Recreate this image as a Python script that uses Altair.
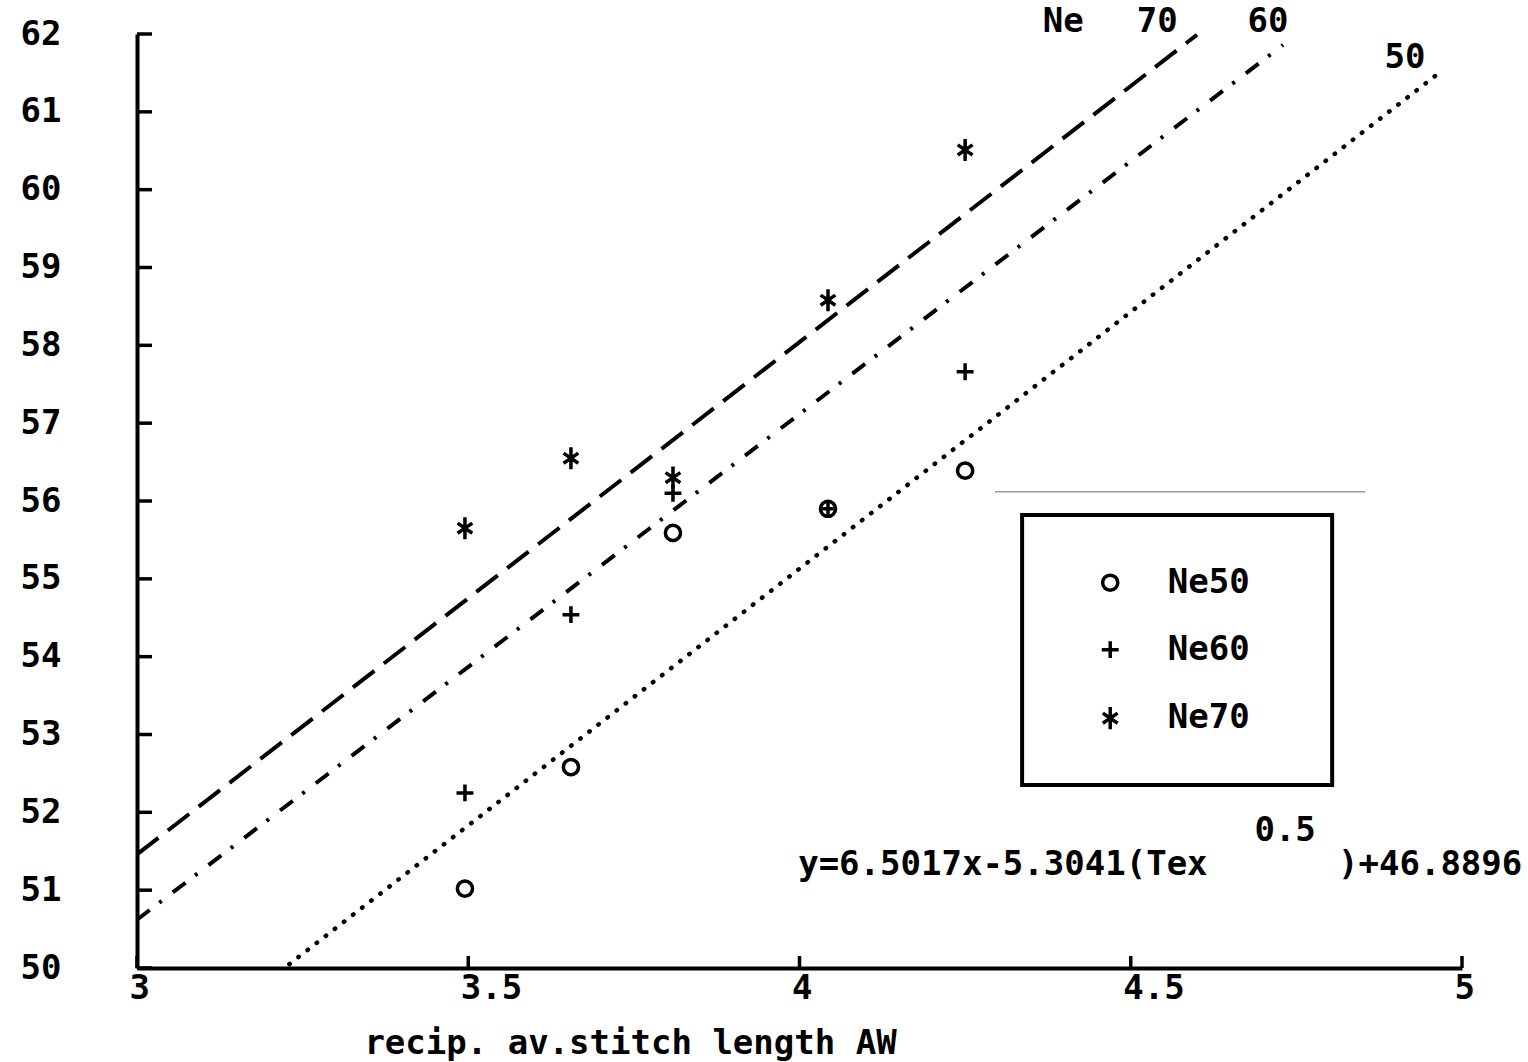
import altair as alt
import pandas as pd

# ---- data ----
x_vals = [3.495, 3.655, 3.809, 4.043, 4.25]
ne50 = [51.02, 52.58, 55.59, 55.90, 56.39]
ne60 = [52.25, 54.54, 56.10, 55.90, 57.66]
ne70 = [55.65, 56.55, 56.30, 58.58, 60.51]
series_names = ["Ne50", "Ne60", "Ne70"]

# regression lines (end points)
fit_series = ["Ne50", "Ne50", "Ne60", "Ne60", "Ne70", "Ne70"]
fit_x = [3.23, 4.967, 3.0, 4.73, 3.0, 4.60]
fit_y = [50.05, 61.51, 50.62, 61.86, 51.46, 61.99]

x_ticks = [3, 3.5, 4, 4.5, 5]
y_ticks = list(range(50, 63))

x_title = "recip. av.stitch length AW"
eq_left = "y=6.5017x-5.3041(Tex"
eq_right = ")+46.8896"
eq_sup = "0.5"

# legend box and annotation anchors (data coordinates)
legend_box = {"x": 4.336, "x2": 4.804, "y": 55.82, "y2": 52.35}
legend_sym_x = 4.469
legend_txt_x = 4.556
legend_rows_y = [54.95, 54.09, 53.21]

line_labels = ["Ne", "70", "60", "50"]
line_label_x = [4.398, 4.540, 4.707, 4.914]
line_label_y = [62.15, 62.15, 62.15, 61.69]

artifact_x = [4.295, 4.854]
artifact_y = [56.12, 56.12]

W, H = 1325, 934
FONT = "DejaVu Sans Mono"
FS = 34

pts = pd.DataFrame(
    [{"x": x, "y": y, "s": s} for s, ys in zip(series_names, [ne50, ne60, ne70]) for x, y in zip(x_vals, ys)]
)
fits = pd.DataFrame({"s": fit_series, "x": fit_x, "y": fit_y})

xs = alt.Scale(domain=[3, 5], nice=False, zero=False)
ys = alt.Scale(domain=[50, 62], nice=False, zero=False)

plus_path = "M-1,0L1,0M0,-1L0,1"
star_path = "M0,-1.2L0,1.2M-0.8,-0.55L0.8,0.55M-0.8,0.55L0.8,-0.55"
shape_scale = alt.Scale(domain=series_names, range=["circle", plus_path, star_path])
size_scale = alt.Scale(domain=series_names, range=[230, 340, 520])

points = alt.Chart(pts).mark_point(filled=False, color="black", strokeWidth=3.5, opacity=1).encode(
    x=alt.X("x:Q", scale=xs, axis=alt.Axis(
        values=x_ticks, format="~g", grid=False, ticks=False, domainWidth=4, domainColor="black",
        labelFont=FONT, labelFontSize=FS, labelFontWeight="bold", labelColor="black",
        labelAlign="left", labelOffset=-8, labelPadding=20, labelBaseline="middle",
        title=x_title, titleFont=FONT, titleFontSize=FS, titleFontWeight="bold", titleColor="black",
        titleX=493, titleY=75, titleAnchor="middle", titleBaseline="middle")),
    y=alt.Y("y:Q", scale=ys, axis=alt.Axis(
        values=y_ticks, format="d", grid=False, ticks=False, domainWidth=4, domainColor="black",
        labelFont=FONT, labelFontSize=FS, labelFontWeight="bold", labelColor="black",
        labelPadding=76, title=None)),
    shape=alt.Shape("s:N", scale=shape_scale, legend=None),
    size=alt.Size("s:N", scale=size_scale, legend=None),
)

dash_lines = alt.Chart(fits).transform_filter(alt.datum.s != "Ne50").mark_line(
    color="black", strokeWidth=4, strokeCap="butt").encode(
    x=alt.X("x:Q", scale=xs),
    y=alt.Y("y:Q", scale=ys),
    detail="s:N",
    strokeDash=alt.StrokeDash("s:N", scale=alt.Scale(domain=["Ne60", "Ne70"],
                                                      range=[[16, 12, 3, 14], [27, 12]]), legend=None),
)
dot_line = alt.Chart(fits).transform_filter(alt.datum.s == "Ne50").mark_line(
    color="black", strokeWidth=4.5, strokeCap="round", strokeDash=[0.5, 11]).encode(
    x=alt.X("x:Q", scale=xs),
    y=alt.Y("y:Q", scale=ys),
)

ytick_rules = alt.Chart(pd.DataFrame({"y": y_ticks})).mark_rule(color="black", strokeWidth=3.5).encode(
    y=alt.Y("y:Q", scale=ys), x=alt.value(0), x2=alt.value(15))
xtick_rules = alt.Chart(pd.DataFrame({"x": x_ticks})).mark_rule(color="black", strokeWidth=3.5).encode(
    x=alt.X("x:Q", scale=xs), y=alt.value(H), y2=alt.value(H - 12))

box = alt.Chart(pd.DataFrame([legend_box])).mark_rect(fill=None, stroke="black", strokeWidth=4).encode(
    x=alt.X("x:Q", scale=xs), x2="x2:Q", y=alt.Y("y:Q", scale=ys), y2="y2:Q")

leg_df = pd.DataFrame({"s": series_names, "x": [legend_sym_x] * 3, "tx": [legend_txt_x] * 3, "y": legend_rows_y})
leg_pts = alt.Chart(leg_df).mark_point(filled=False, color="black", strokeWidth=3.5, opacity=1).encode(
    x=alt.X("x:Q", scale=xs), y=alt.Y("y:Q", scale=ys),
    shape=alt.Shape("s:N", scale=shape_scale, legend=None),
    size=alt.Size("s:N", scale=size_scale, legend=None))

def text_layer(df, align, xfield="x"):
    return alt.Chart(df).mark_text(font=FONT, fontSize=FS, fontWeight="bold", align=align,
                                   baseline="middle", color="black").encode(
        x=alt.X(f"{xfield}:Q", scale=xs), y=alt.Y("y:Q", scale=ys), text="t:N")

leg_txt = text_layer(leg_df.assign(t=leg_df["s"]), "left", "tx")
line_lab = text_layer(pd.DataFrame({"t": line_labels, "x": line_label_x, "y": line_label_y}), "center")
eq_l = text_layer(pd.DataFrame({"t": [eq_left], "x": [3.998], "y": [51.32]}), "left")
eq_r = text_layer(pd.DataFrame({"t": [eq_right], "x": [5.091], "y": [51.32]}), "right")
eq_s = text_layer(pd.DataFrame({"t": [eq_sup], "x": [4.733], "y": [51.76]}), "center")

art = alt.Chart(pd.DataFrame({"x": artifact_x, "y": artifact_y})).mark_line(color="#9a9a9a", strokeWidth=1.5).encode(
    x=alt.X("x:Q", scale=xs), y=alt.Y("y:Q", scale=ys))

chart = alt.layer(
    art, dash_lines, dot_line, points, ytick_rules, xtick_rules, box, leg_pts, leg_txt, line_lab, eq_l, eq_r, eq_s
).properties(
    width=W, height=H,
    autosize=alt.AutoSizeParams(type="none"),
    padding={"left": 137, "top": 34, "right": 1528 - 137 - W, "bottom": 1062 - 34 - H},
    background="white",
).configure_view(stroke=None)

chart.save("out.html", embed_options={"renderer": "svg", "actions": False})
